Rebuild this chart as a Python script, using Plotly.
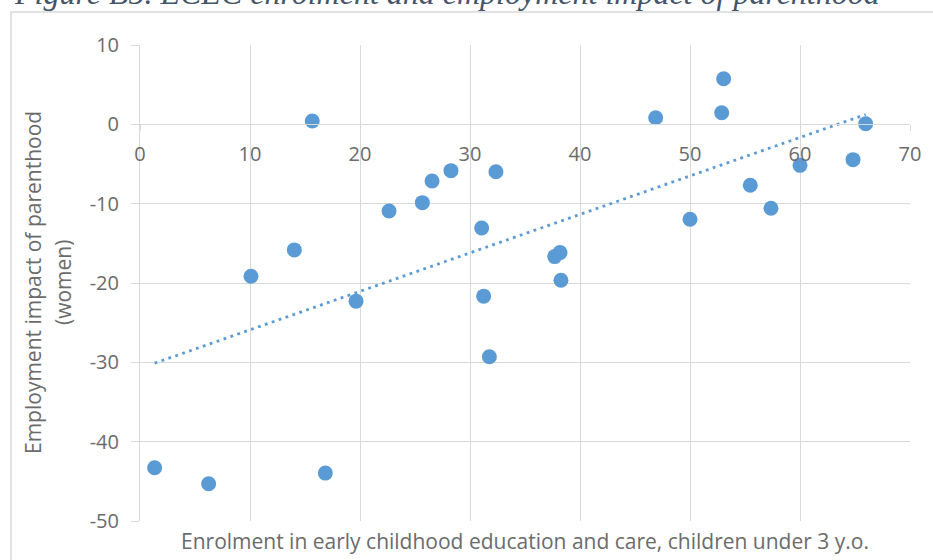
import numpy as np
import plotly.graph_objects as go

# Data
enrolment = [15.66, 10.09, 14.03, 22.64, 25.67, 26.55, 28.27, 32.36, 31.06,
             46.88, 52.88, 53.06, 65.97, 64.82, 60.0, 55.48, 57.36, 50.0,
             37.7, 38.18, 38.27, 19.64, 31.24, 31.76, 1.33, 6.24, 16.85]
impact = [0.42, -19.14, -15.83, -10.92, -9.87, -7.14, -5.84, -5.97, -13.06,
          0.83, 1.46, 5.74, 0.08, -4.45, -5.17, -7.68, -10.58, -11.96,
          -16.67, -16.17, -19.65, -22.29, -21.66, -29.3, -43.29, -45.3, -43.96]

x_ticks = [0, 10, 20, 30, 40, 50, 60, 70]
x_ticktext = ["0", "10", "20", "30", "40", "50", "60", "70"]
y_ticks = [10, 0, -10, -20, -30, -40, -50]
y_ticktext = ["10", "0", "-10", "-20", "-30", "-40", "-50"]

title_text = "Figure B5. ECEC enrolment and employment impact of parenthood"
x_title = "Enrolment in early childhood education and care, children under 3 y.o."
y_title_1 = "Employment impact of parenthood"
y_title_2 = "(women)"

# Linear trendline (as in the original spreadsheet chart)
slope, intercept = np.polyfit(enrolment, impact, 1)
trend_x = [min(enrolment), max(enrolment)]
trend_y = [slope * v + intercept for v in trend_x]

W, H = 933, 560
ML, MR, MT, MB = 140, 23, 45, 39
PW, PH = W - ML - MR, H - MT - MB

def px_x(p):
    return (p - ML) / PW

def px_y(p):
    return (H - MB - p) / PH

BLUE = "#5b9bd5"
GRID = "#d9d9d9"
TXT = "#6b6b6b"
FONT = "Open Sans"

fig = go.Figure()
fig.add_trace(go.Scatter(x=trend_x, y=trend_y, mode="lines",
                         line=dict(color=BLUE, width=2.8, dash="2.8px,4.5px"),
                         hoverinfo="skip", showlegend=False))
fig.add_trace(go.Scatter(x=enrolment, y=impact, mode="markers",
                         marker=dict(color=BLUE, size=15, line=dict(width=0)),
                         showlegend=False))

fig.update_layout(
    width=W, height=H,
    margin=dict(l=ML, r=MR, t=MT, b=MB, pad=0),
    paper_bgcolor="white", plot_bgcolor="white",
    font=dict(family=FONT, color=TXT, size=20),
    xaxis=dict(range=[0, 70], tickvals=x_ticks, ticktext=x_ticktext,
               showgrid=True, gridcolor=GRID, gridwidth=1,
               zeroline=False, showline=True, linecolor=GRID, linewidth=1,
               anchor="free", position=(0 - (-50)) / 60,
               ticks="outside", ticklen=6, tickcolor=GRID, tickwidth=1,
               ticklabelstandoff=6,
               tickfont=dict(family=FONT, size=20, color=TXT)),
    yaxis=dict(range=[-50, 10], tickvals=y_ticks, ticktext=y_ticktext,
               showgrid=True, gridcolor=GRID, gridwidth=1,
               zeroline=False, showline=True, linecolor=GRID, linewidth=1,
               ticks="outside", ticklen=8, tickcolor=GRID, tickwidth=1,
               ticklabelstandoff=8,
               tickfont=dict(family=FONT, size=20, color=TXT)),
    shapes=[dict(type="rect", xref="paper", yref="paper",
                 x0=px_x(11), x1=1.3, y0=-0.5, y1=px_y(12),
                 line=dict(color=GRID, width=1.5), layer="below")],
    annotations=[
        dict(text="<i>" + title_text + "</i>", xref="paper", yref="paper",
             x=px_x(12), y=px_y(-7), xanchor="left", yanchor="middle",
             showarrow=False,
             font=dict(family="Liberation Serif", size=32, color="#44546a")),
        dict(text=x_title, xref="paper", yref="paper",
             x=0.5, y=px_y(541), xanchor="center", yanchor="middle",
             showarrow=False, font=dict(family=FONT, size=21, color=TXT)),
        dict(text=y_title_1, xref="paper", yref="paper",
             x=px_x(33), y=0.5, xanchor="center", yanchor="middle",
             textangle=-90, showarrow=False,
             font=dict(family=FONT, size=21, color=TXT)),
        dict(text=y_title_2, xref="paper", yref="paper",
             x=px_x(63), y=0.5, xanchor="center", yanchor="middle",
             textangle=-90, showarrow=False,
             font=dict(family=FONT, size=21, color=TXT)),
    ],
)

fig.write_html("out.html",
               config={"displayModeBar": False},
               post_script="document.body.style.margin='0';document.body.style.overflow='hidden';")
